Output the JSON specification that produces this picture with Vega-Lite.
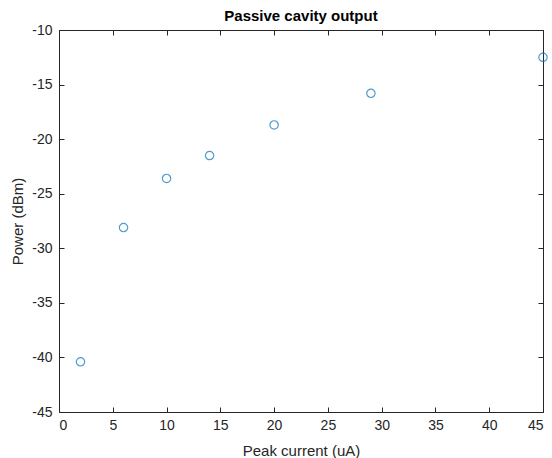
{
  "$schema": "https://vega.github.io/schema/vega-lite/v6.json",
  "width": 484,
  "height": 382,
  "autosize": "none",
  "padding": {"left": 59, "top": 30, "right": 9, "bottom": 46},
  "background": "white",
  "title": {"text": "Passive cavity output", "font": "Liberation Sans", "fontSize": 15, "fontWeight": "bold", "color": "#000000", "offset": -1},
  "config": {
    "view": {"stroke": null},
    "axis": {
      "domainColor": "#262626", "tickColor": "#262626", "labelColor": "#262626", "titleColor": "#262626",
      "labelFont": "Liberation Sans", "titleFont": "Liberation Sans", "labelFontSize": 14, "titleFontSize": 15,
      "titleFontWeight": "normal", "grid": false, "tickSize": -5, "domainWidth": 1, "tickWidth": 1,
      "labelExpr": "replace(datum.label, '\u2212', '-')"
    }
  },
  "data": {"values": [
    {"current": 2, "power": -40.4},
    {"current": 6, "power": -28.1},
    {"current": 10, "power": -23.6},
    {"current": 14, "power": -21.5},
    {"current": 20, "power": -18.7},
    {"current": 29, "power": -15.8},
    {"current": 45, "power": -12.5}
  ]},
  "layer": [
    {
      "mark": {"type": "point", "shape": "circle", "filled": false, "color": "#0072BD", "size": 70, "strokeWidth": 1.2},
      "encoding": {
        "x": {"field": "current", "type": "quantitative", "scale": {"domain": [0, 45], "nice": false}, "title": "Peak current (uA)",
              "axis": {"orient": "bottom", "values": [0,5,10,15,20,25,30,35,40,45], "labelPadding": 11, "titlePadding": 11}},
        "y": {"field": "power", "type": "quantitative", "scale": {"domain": [-45, -10], "nice": false, "zero": false}, "title": "Power (dBm)",
              "axis": {"orient": "left", "values": [-45,-40,-35,-30,-25,-20,-15,-10], "labelPadding": 12, "titlePadding": 6}}
      }
    },
    {
      "mark": {"type": "point", "opacity": 0},
      "encoding": {
        "x": {"field": "current", "type": "quantitative", "scale": {"domain": [0, 45], "nice": false},
              "axis": {"orient": "top", "values": [0,5,10,15,20,25,30,35,40,45], "labels": false, "title": null}},
        "y": {"field": "power", "type": "quantitative", "scale": {"domain": [-45, -10], "nice": false, "zero": false},
              "axis": {"orient": "right", "values": [-45,-40,-35,-30,-25,-20,-15,-10], "labels": false, "title": null}}
      }
    }
  ],
  "resolve": {"axis": {"x": "independent", "y": "independent"}}
}
